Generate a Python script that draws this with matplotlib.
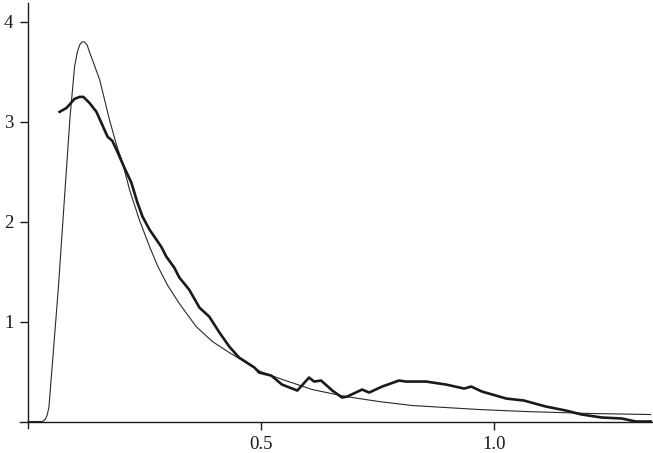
import matplotlib
matplotlib.use("Agg")
import matplotlib.pyplot as plt

# ─── data ───
# smooth (model) density, thin line
model_x = [0.0, 0.031, 0.037, 0.041, 0.045, 0.065, 0.090, 0.100, 0.106, 0.111,
           0.116, 0.121, 0.127, 0.132, 0.140, 0.154, 0.175, 0.190, 0.203, 0.218,
           0.239, 0.261, 0.278, 0.300, 0.325, 0.361, 0.396, 0.432, 0.468, 0.499,
           0.540, 0.610, 0.682, 0.753, 0.825, 0.896, 0.968, 1.068, 1.210, 1.336]
model_y = [0.0, 0.0, 0.02, 0.06, 0.14, 1.32, 3.03, 3.55, 3.70, 3.77,
           3.80, 3.80, 3.77, 3.70, 3.60, 3.42, 3.02, 2.77, 2.59, 2.32,
           2.02, 1.75, 1.56, 1.36, 1.18, 0.95, 0.80, 0.69, 0.59, 0.50,
           0.43, 0.32, 0.25, 0.20, 0.16, 0.14, 0.12, 0.10, 0.08, 0.07]

# empirical density, thick jagged line
emp_x = [0.068, 0.083, 0.100, 0.111, 0.119, 0.132, 0.147, 0.171, 0.181, 0.192,
         0.207, 0.222, 0.235, 0.246, 0.261, 0.286, 0.297, 0.314, 0.325, 0.346,
         0.368, 0.389, 0.411, 0.432, 0.453, 0.486, 0.496, 0.522, 0.545, 0.578,
         0.603, 0.614, 0.629, 0.653, 0.674, 0.685, 0.717, 0.732, 0.760, 0.796,
         0.811, 0.854, 0.897, 0.936, 0.951, 0.974, 1.026, 1.064, 1.111, 1.154,
         1.188, 1.231, 1.274, 1.304, 1.336]
emp_y = [3.10, 3.14, 3.23, 3.25, 3.25, 3.19, 3.10, 2.85, 2.81, 2.70,
         2.54, 2.39, 2.19, 2.05, 1.92, 1.75, 1.65, 1.54, 1.44, 1.32,
         1.14, 1.05, 0.89, 0.75, 0.64, 0.54, 0.49, 0.46, 0.37, 0.31,
         0.44, 0.40, 0.41, 0.31, 0.24, 0.25, 0.32, 0.29, 0.35, 0.41,
         0.40, 0.40, 0.37, 0.33, 0.35, 0.30, 0.23, 0.21, 0.15, 0.11,
         0.07, 0.04, 0.03, 0.00, 0.00]

x_ticks = [0.5, 1.0]
x_labels = ["0.5", "1.0"]
y_ticks = [1, 2, 3, 4]
y_labels = ["1", "2", "3", "4"]

plt.rcParams["font.family"] = ["Liberation Serif", "DejaVu Serif"]

fig = plt.figure(figsize=(6.53, 4.53), dpi=100)
ax = fig.add_axes([20 / 653, 25 / 453, 633 / 653, 425 / 453])

ax.plot(model_x, model_y, color="#2a2a2a", linewidth=0.8)
ax.plot(emp_x, emp_y, color="#1a1a1a", linewidth=1.9)

ax.set_xlim(-0.017, 1.341)
ax.set_ylim(-0.065, 4.19)

# axes cross at the origin
ax.spines["left"].set_position(("data", 0))
ax.spines["bottom"].set_position(("data", 0))
ax.spines["top"].set_visible(False)
ax.spines["right"].set_visible(False)
for s in ("left", "bottom"):
    ax.spines[s].set_linewidth(1.0)
    ax.spines[s].set_color("#1a1a1a")

ax.set_xticks(x_ticks)
ax.set_xticklabels(x_labels)
ax.set_yticks(y_ticks)
ax.set_yticklabels(y_labels)
ax.tick_params(axis="both", direction="out", length=5.5, width=1.0,
               colors="#1a1a1a", labelsize=13.5, pad=5)

fig.savefig("out.png", dpi=100)
